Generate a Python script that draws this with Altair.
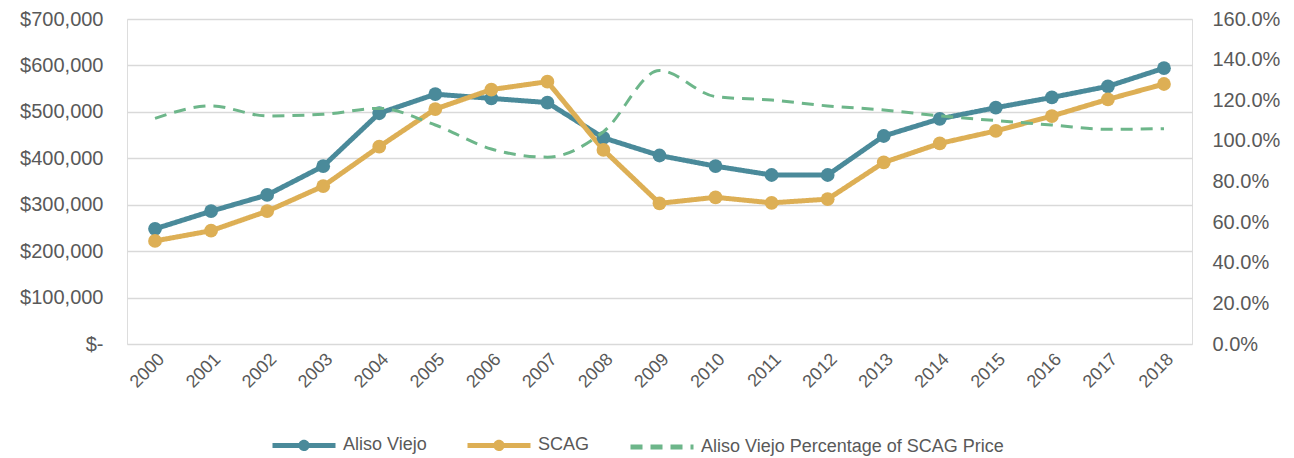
import altair as alt
import pandas as pd

years = [str(y) for y in range(2000, 2019)]
aliso = [248000, 286000, 321000, 383000, 497000, 538000, 529000, 520000, 444000, 406000,
         383000, 364000, 364000, 448000, 485000, 509000, 531000, 555000, 594000]
scag = [222000, 244000, 286000, 340000, 425000, 506000, 548000, 565000, 418000, 303000,
        316000, 304000, 312000, 391000, 432000, 459000, 491000, 527000, 560000]
pct = [111.1, 117.2, 112.3, 113.1, 116.0, 107.8, 96.0, 92.0, 104.5, 134.6,
       121.8, 120.1, 117.2, 115.2, 112.3, 110.0, 107.8, 105.7, 106.0]

S1, S2, S3 = "Aliso Viejo", "SCAG", "Aliso Viejo Percentage of SCAG Price"
series_order = [S1, S2, S3]
colors = ["#4A8A9A", "#DDAF55", "#6DB68A"]

price_df = pd.DataFrame({
    "year": years * 2,
    "series": [S1] * len(years) + [S2] * len(years),
    "price": aliso + scag,
})
pct_df = pd.DataFrame({"year": years, "series": [S3] * len(years), "pct": [p / 100 for p in pct]})

FONT = "Liberation Sans"
GRAY = "#595959"

x_enc = alt.X("year:O", sort=years,
              scale=alt.Scale(type="point", padding=0.5),
              axis=alt.Axis(title=None, labelAngle=-45, labelFontSize=18, labelColor=GRAY,
                            labelFont=FONT, domain=False, ticks=False, grid=False, labelPadding=6))

legend = alt.Legend(title=None, orient="none", legendX=143, legendY=392, direction="horizontal",
                    symbolSize=3969, symbolStrokeWidth=5, symbolOpacity=1,
                    labelFontSize=18, labelFont=FONT, labelColor=GRAY, columnPadding=30,
                    labelOffset=5, labelLimit=500)
color_enc = alt.Color("series:N", scale=alt.Scale(domain=series_order, range=colors), legend=legend)
dash_enc = alt.StrokeDash("series:N",
                          scale=alt.Scale(domain=series_order, range=[[1, 0], [1, 0], [12, 8]]),
                          legend=legend)
line_dot = "M-1,0L1,0M-0.1,0A0.1,0.1,0,1,0,0.1,0A0.1,0.1,0,1,0,-0.1,0Z"
line_only = "M-1,0L1,0"
shape_enc = alt.Shape("series:N",
                      scale=alt.Scale(domain=series_order, range=[line_dot, line_dot, line_only]),
                      legend=legend)

y_price = alt.Y("price:Q", scale=alt.Scale(domain=[0, 700000], nice=False),
                axis=alt.Axis(title=None, values=list(range(0, 700001, 100000)),
                              labelExpr="datum.value == 0 ? '$-' : '$' + format(datum.value, ',')",
                              labelFontSize=20, labelFont=FONT, labelColor=GRAY, labelPadding=24,
                              domain=False, ticks=False, grid=True, gridColor="#D9D9D9",
                              gridWidth=1.5))
y_pct = alt.Y("pct:Q", scale=alt.Scale(domain=[0, 1.6], nice=False),
              axis=alt.Axis(title=None, orient="right", values=[i * 0.2 for i in range(9)],
                            format=".1%", labelFontSize=20, labelFont=FONT, labelColor=GRAY,
                            labelPadding=20, domain=False, ticks=False, grid=False))

price_lines = alt.Chart(price_df).mark_line(strokeWidth=5).encode(
    x=x_enc, y=y_price, color=color_enc, strokeDash=dash_enc)
price_points = alt.Chart(price_df).mark_circle(size=190, opacity=1).encode(
    x=x_enc, y=y_price, color=color_enc)
legend_keys = alt.Chart(price_df).mark_point(filled=True, opacity=0, size=1).encode(
    x=x_enc, y=y_price, color=color_enc, shape=shape_enc, strokeDash=dash_enc)
pct_line = alt.Chart(pct_df).mark_line(strokeWidth=3, interpolate="monotone").encode(
    x=x_enc, y=y_pct, color=color_enc, strokeDash=dash_enc)

chart = alt.layer(alt.layer(price_lines, price_points, legend_keys), pct_line).resolve_scale(
    y="independent"
).properties(
    width=1065, height=325,
    autosize=alt.AutoSizeParams(type="none"),
    padding={"left": 119, "top": 11, "right": 94, "bottom": 112},
).configure_view(stroke=None).configure(background="white")

chart.save("out.html", embed_options={"renderer": "svg", "actions": False})
